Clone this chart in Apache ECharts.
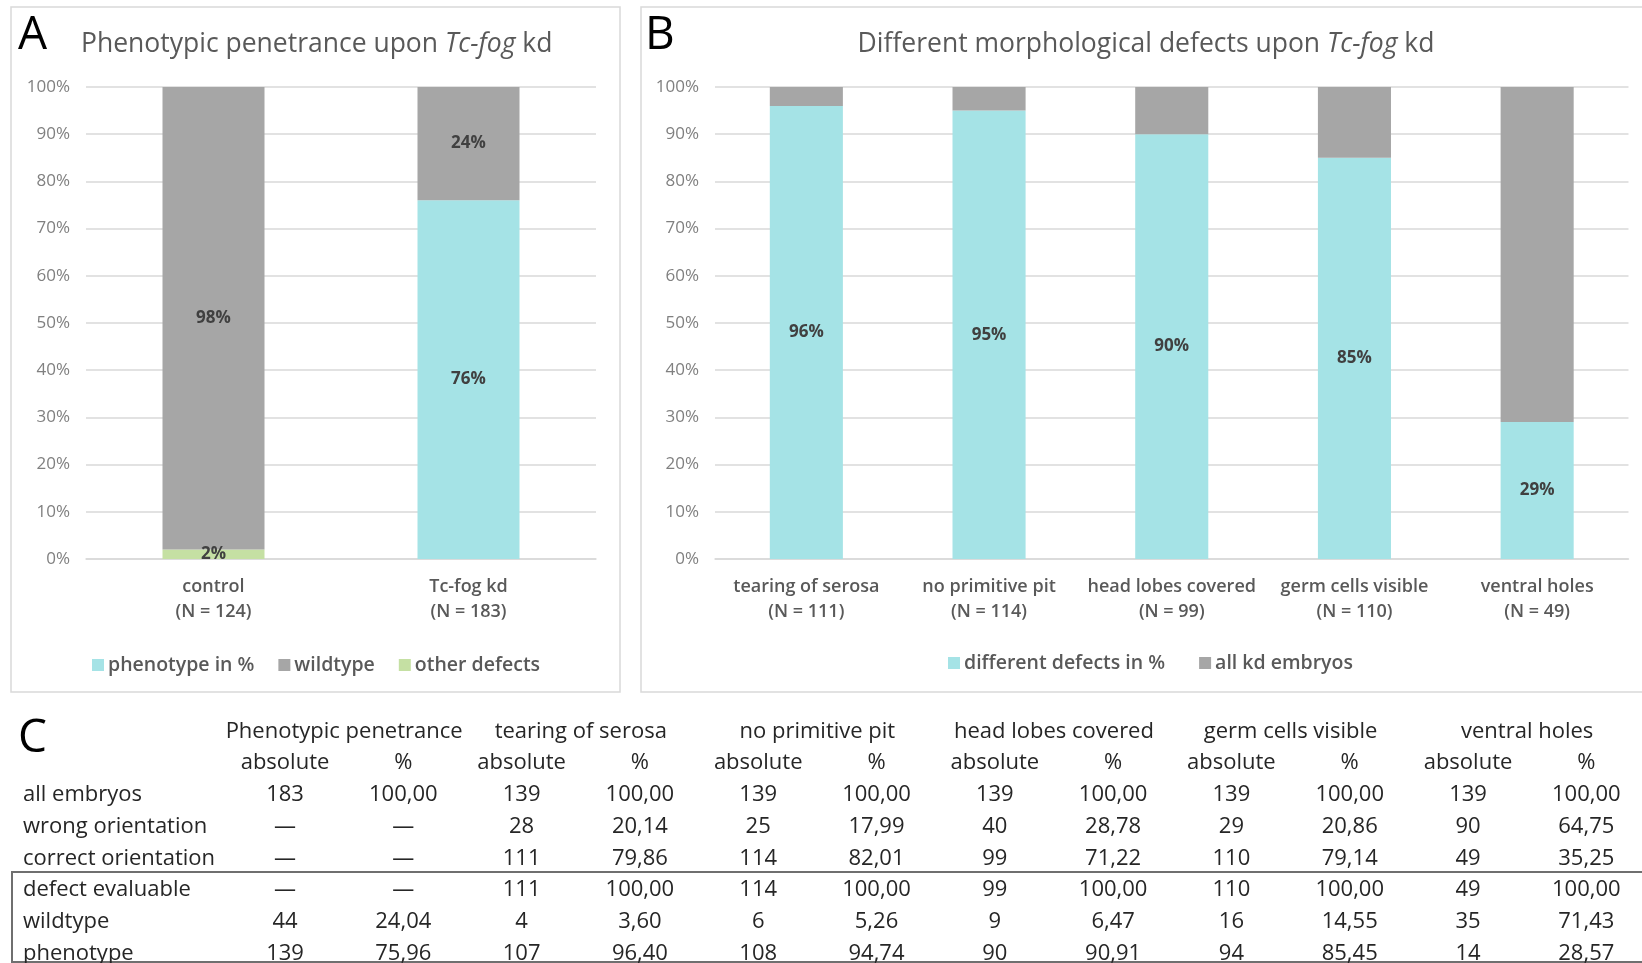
<!DOCTYPE html>
<html>
<head>
<meta charset="utf-8">
<script src="https://cdn.jsdelivr.net/npm/echarts@6/dist/echarts.min.js"></script>
<style>
html,body{margin:0;padding:0;background:#fff;}
#chart{width:1642px;height:963px;}
</style>
</head>
<body>
<div id="chart"></div>
<script>
// ---- Panel A data ----
const categoriesA = ['control\n(N = 124)', 'Tc-fog kd\n(N = 183)'];
const phenotypeA = [0, 76];
const wildtypeA = [98, 24];
const otherDefectsA = [2, 0];

// ---- Panel B data ----
const categoriesB = ['tearing of serosa\n(N = 111)', 'no primitive pit\n(N = 114)', 'head lobes covered\n(N = 99)', 'germ cells visible\n(N = 110)', 'ventral holes\n(N = 49)'];
const defectsB = [96, 95, 90, 85, 29];
const allKdB = [4, 5, 10, 15, 71];

// ---- Axis ----
const yMin = 0, yMax = 100, yInterval = 10;

// ---- Panel C table ----
const groupHeaders = ['Phenotypic penetrance', 'tearing of serosa', 'no primitive pit', 'head lobes covered', 'germ cells visible', 'ventral holes'];
const subHeaders = ['absolute', '%'];
const rowLabels = ['all embryos', 'wrong orientation', 'correct orientation', 'defect evaluable', 'wildtype', 'phenotype'];
const tableRows = [
  ['183', '100,00', '139', '100,00', '139', '100,00', '139', '100,00', '139', '100,00', '139', '100,00'],
  ['\u2014', '\u2014', '28', '20,14', '25', '17,99', '40', '28,78', '29', '20,86', '90', '64,75'],
  ['\u2014', '\u2014', '111', '79,86', '114', '82,01', '99', '71,22', '110', '79,14', '49', '35,25'],
  ['\u2014', '\u2014', '111', '100,00', '114', '100,00', '99', '100,00', '110', '100,00', '49', '100,00'],
  ['44', '24,04', '4', '3,60', '6', '5,26', '9', '6,47', '16', '14,55', '35', '71,43'],
  ['139', '75,96', '107', '96,40', '108', '94,74', '90', '90,91', '94', '85,45', '14', '28,57']
];

// ---- styles ----
const CYAN = '#a5e3e6', GRAY = '#a6a6a6', GREEN = '#c5e0a3';
const FONT = "'Open Sans', 'Noto Sans', sans-serif";
const TFONT = "'Open Sans', 'Noto Sans', sans-serif";

const chart = echarts.init(document.getElementById('chart'));

const labelFmt = p => (p.value ? p.value + '%' : '');
const barLabel = {show: true, position: 'inside', formatter: labelFmt, color: '#404040', fontWeight: 'bold', fontSize: 17, fontFamily: FONT};

function yAxis(gi) {
  return {
    type: 'value', gridIndex: gi, min: yMin, max: yMax, interval: yInterval,
    axisLabel: {formatter: '{value}%', color: '#808080', fontSize: 17, fontFamily: FONT, margin: 16},
    axisLine: {show: false}, axisTick: {show: false},
    splitLine: {lineStyle: {color: '#d9d9d9', width: 1.5}}
  };
}
function xAxis(gi, cats) {
  return {
    type: 'category', gridIndex: gi, data: cats,
    axisLine: {lineStyle: {color: '#d9d9d9', width: 1.5}}, axisTick: {show: false},
    axisLabel: {color: '#595959', fontSize: 18, fontWeight: 600, fontFamily: FONT, lineHeight: 25, margin: 15, interval: 0}
  };
}

// table graphics
const tableGraphics = [];
const colX0 = 285, colStep = 118.3;
const rowY0 = 731.5, rowStep = 31.7;
const tStyle = {font: '22px ' + TFONT, fill: '#262626'};
groupHeaders.forEach((h, g) => {
  tableGraphics.push({type: 'text', style: Object.assign({}, tStyle, {text: h, x: colX0 + colStep * (2 * g + 0.5), y: rowY0, align: 'center', verticalAlign: 'middle'})});
  subHeaders.forEach((s, k) => {
    tableGraphics.push({type: 'text', style: Object.assign({}, tStyle, {text: s, x: colX0 + colStep * (2 * g + k), y: rowY0 + rowStep, align: 'center', verticalAlign: 'middle'})});
  });
});
rowLabels.forEach((r, i) => {
  const y = rowY0 + rowStep * (i + 2);
  tableGraphics.push({type: 'text', style: Object.assign({}, tStyle, {text: r, x: 23, y: y, align: 'left', verticalAlign: 'middle'})});
  tableRows[i].forEach((v, j) => {
    tableGraphics.push({type: 'text', style: Object.assign({}, tStyle, {text: v, x: colX0 + colStep * j, y: y, align: 'center', verticalAlign: 'middle'})});
  });
});

const titleRich = {
  n: {fontSize: 26.5, color: '#595959', fontFamily: FONT, fontWeight: 'normal'},
  i: {fontSize: 26.5, color: '#595959', fontStyle: 'italic', fontFamily: FONT, fontWeight: 'normal'}
};

const option = {
  backgroundColor: '#fff',
  animation: false,
  title: [
    {text: '{n|Phenotypic penetrance upon }{i|Tc-fog}{n| kd}', left: 76, top: 26,
      textStyle: {fontWeight: 'normal', rich: titleRich}},
    {text: '{n|Different morphological defects upon }{i|Tc-fog}{n| kd}', left: 1141, textAlign: 'center', top: 26,
      textStyle: {fontWeight: 'normal', rich: titleRich}}
  ],
  legend: [
    {left: 87, top: 650, itemWidth: 12, itemHeight: 12, itemGap: 24, icon: 'rect',
      data: ['phenotype in %', 'wildtype', 'other defects'],
      textStyle: {color: '#595959', fontSize: 19.5, fontFamily: FONT, fontWeight: 600, padding: [0, 0, 0, -1]}},
    {left: 943, top: 648, itemWidth: 12, itemHeight: 12, itemGap: 34, icon: 'rect',
      data: ['different defects in %', 'all kd embryos'],
      textStyle: {color: '#595959', fontSize: 19.5, fontFamily: FONT, fontWeight: 600, padding: [0, 0, 0, -1]}}
  ],
  grid: [
    {left: 86, top: 87, width: 510, height: 472},
    {left: 715, top: 87, width: 913.5, height: 472}
  ],
  xAxis: [xAxis(0, categoriesA), xAxis(1, categoriesB)],
  yAxis: [yAxis(0), yAxis(1)],
  series: [
    {name: 'phenotype in %', type: 'bar', stack: 'a', xAxisIndex: 0, yAxisIndex: 0, barWidth: '40%', data: phenotypeA, itemStyle: {color: CYAN}, label: barLabel},
    {name: 'other defects', type: 'bar', stack: 'a', xAxisIndex: 0, yAxisIndex: 0, barWidth: '40%', data: otherDefectsA, itemStyle: {color: GREEN}, label: barLabel},
    {name: 'wildtype', type: 'bar', stack: 'a', xAxisIndex: 0, yAxisIndex: 0, barWidth: '40%', data: wildtypeA, itemStyle: {color: GRAY}, label: barLabel},
    {name: 'different defects in %', type: 'bar', stack: 'b', xAxisIndex: 1, yAxisIndex: 1, barWidth: '40%', data: defectsB, itemStyle: {color: CYAN}, label: barLabel},
    {name: 'all kd embryos', type: 'bar', stack: 'b', xAxisIndex: 1, yAxisIndex: 1, barWidth: '40%', data: allKdB, itemStyle: {color: GRAY}, label: {show: false}}
  ],
  graphic: [
    {type: 'rect', z: -1, shape: {x: 11, y: 7, width: 609, height: 685}, style: {fill: 'none', stroke: '#d9d9d9', lineWidth: 1.5}},
    {type: 'rect', z: -1, shape: {x: 641, y: 7, width: 1020, height: 685}, style: {fill: 'none', stroke: '#d9d9d9', lineWidth: 1.5}},
    {type: 'text', style: {text: 'A', x: 18, y: 36, font: '46px ' + FONT, fill: '#000', align: 'left', verticalAlign: 'middle'}},
    {type: 'text', style: {text: 'B', x: 645, y: 36, font: '46px ' + FONT, fill: '#000', align: 'left', verticalAlign: 'middle'}},
    {type: 'text', style: {text: 'C', x: 18, y: 739, font: '46px ' + FONT, fill: '#000', align: 'left', verticalAlign: 'middle'}},
    {type: 'rect', shape: {x: 12, y: 872, width: 1660, height: 90}, style: {fill: 'none', stroke: '#6f6f6f', lineWidth: 2}}
  ].concat(tableGraphics)
};
chart.setOption(option);
</script>
</body>
</html>
